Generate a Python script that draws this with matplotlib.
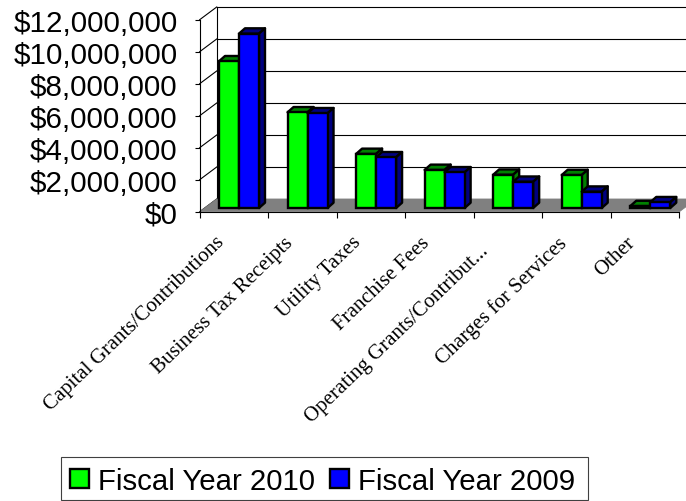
import matplotlib
matplotlib.use("Agg")
import matplotlib.pyplot as plt
from matplotlib.patches import Polygon, Patch, Rectangle
from matplotlib.transforms import ScaledTranslation

categories = ["Capital Grants/Contributions", "Business Tax Receipts", "Utility Taxes",
              "Franchise Fees", "Operating Grants/Contribut...", "Charges for Services", "Other"]
fy2010 = [9170000, 5980000, 3380000, 2380000, 2080000, 2060000, 120000]
fy2009 = [10900000, 5920000, 3170000, 2230000, 1640000, 1020000, 360000]
y_ticks = [0, 2000000, 4000000, 6000000, 8000000, 10000000, 12000000]

W, H = 686, 502
LEFT, RIGHT, TOP, BOTTOM = 199.7, 679.5, 20.7, 212.7

fig = plt.figure(figsize=(W / 100, H / 100), dpi=100)
ax = fig.add_axes([LEFT / W, 1 - BOTTOM / H, (RIGHT - LEFT) / W, (BOTTOM - TOP) / H])
ax.set_xlim(0, len(categories))
ax.set_ylim(0, 12000000)
ax.patch.set_visible(False)

# data units per pixel, used for the fake 3d offsets
ux = len(categories) / (RIGHT - LEFT)
uy = 12000000 / (BOTTOM - TOP)

wall_dx, wall_dy = 17 * ux, 12.7 * uy
bar_dx, bar_dy = 6 * ux, 5.3 * uy
base = 3.7 * uy
bar_w = 20 * ux
first = 19.3 * ux
edge = 1.7

# back wall gridlines and the slanted lines on the side wall
xmax = len(categories)
for t in y_ticks:
    ax.plot([wall_dx, xmax + wall_dx], [t + wall_dy, t + wall_dy], color="black", lw=0.8, clip_on=False, zorder=1)
    ax.plot([0, wall_dx], [t, t + wall_dy], color="black", lw=0.8, clip_on=False, zorder=1)
ax.plot([wall_dx, wall_dx], [wall_dy, 12000000 + wall_dy], color="black", lw=0.8, clip_on=False, zorder=1)

# floor
ax.add_patch(Polygon([(0, 0), (wall_dx, wall_dy), (xmax + wall_dx, wall_dy), (xmax, 0)],
                     fc="#808080", ec="#808080", lw=0.5, clip_on=False, zorder=2))

# draw groups left to right so that later bars overlap earlier ones
z = 10
for i in range(len(categories)):
    x = i + first
    for v, shift, front, dark in [(fy2010[i], 0, "#00ff00", "#008000"), (fy2009[i], bar_w, "#0000ff", "#000080")]:
        top = base + v
        bx = x + shift
        ax.add_patch(Polygon([(bx, top), (bx + bar_dx, top + bar_dy), (bx + bar_w + bar_dx, top + bar_dy), (bx + bar_w, top)],
                             fc=dark, ec="black", lw=edge, clip_on=False, zorder=z, joinstyle="round"))
        ax.add_patch(Polygon([(bx + bar_w, base), (bx + bar_w + bar_dx, base + bar_dy), (bx + bar_w + bar_dx, top + bar_dy), (bx + bar_w, top)],
                             fc=dark, ec="black", lw=edge, clip_on=False, zorder=z, joinstyle="round"))
        ax.bar(bx, v, width=bar_w, bottom=base, align="edge", color=front, edgecolor="black",
               linewidth=edge, clip_on=False, zorder=z + 0.1)
        z += 1

for s in ["top", "right"]:
    ax.spines[s].set_visible(False)
for s in ["left", "bottom"]:
    ax.spines[s].set_linewidth(0.8)
    ax.spines[s].set_zorder(3)

ax.set_yticks(y_ticks)
ax.set_yticklabels(["${:,}".format(t) for t in y_ticks], fontfamily="Liberation Sans", fontsize=21.3)
ax.tick_params(axis="y", length=3.8, width=0.8, pad=12)
ax.set_xticks(range(len(categories) + 1))
ax.set_xticklabels([])
ax.tick_params(axis="x", which="major", length=4.5, width=0.8)
ax.set_xticks([i + 0.22 for i in range(len(categories))], minor=True)
labels = ax.set_xticklabels(categories, minor=True, rotation=44, ha="right", va="top", rotation_mode="anchor",
                            fontfamily="Liberation Serif", fontsize=15)
ax.tick_params(axis="x", which="minor", length=0, pad=15)

# the shortened label sits a little further down the slope than the others
labels[4].set_transform(labels[4].get_transform() + ScaledTranslation(-10 / 100, -8 / 100, fig.dpi_scale_trans))

# legend text and swatches, with the frame drawn separately
handles = [Patch(fc="#00ff00", ec="black", lw=edge), Patch(fc="#0000ff", ec="black", lw=edge)]
fig.add_artist(Rectangle((61 / W, 1 - 501 / H), 527 / W, 43 / H, transform=fig.transFigure,
                         fc="white", ec="#404040", lw=0.8))
leg = fig.legend(handles, ["Fiscal Year 2010", "Fiscal Year 2009"], ncol=2, loc="upper left",
                 bbox_to_anchor=(70 / W, 1 - 468 / H), prop={"family": "Liberation Sans", "size": 21.2},
                 frameon=False, handlelength=0.645, handleheight=0.645, handletextpad=0.306,
                 columnspacing=0.51, borderpad=0, borderaxespad=0)

fig.savefig("out.png", dpi=100)
